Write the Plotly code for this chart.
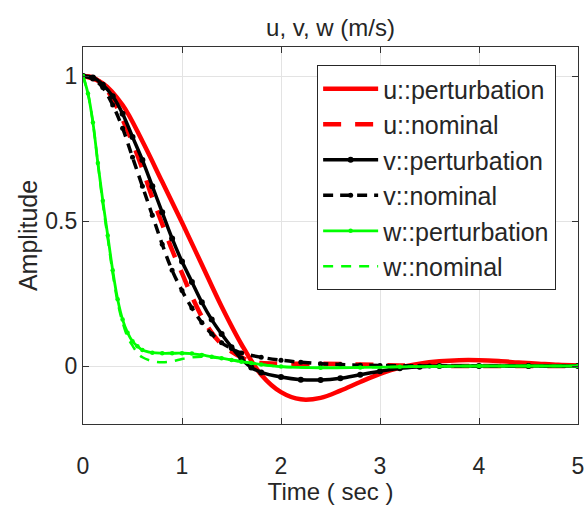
import plotly.graph_objects as go

# ---- data ----
t_u_pert = [0, 0.2, 0.4, 0.6, 0.8, 1.0, 1.2, 1.4, 1.6, 1.8, 2.0, 2.2, 2.4, 2.6, 2.8, 3.0,
            3.2, 3.4, 3.6, 3.8, 4.0, 4.2, 4.4, 4.6, 4.8, 5.0]
u_pert = [1.0, 0.975, 0.90, 0.775, 0.635, 0.495, 0.35, 0.205, 0.075, -0.03, -0.09, -0.115,
          -0.11, -0.085, -0.055, -0.027, -0.005, 0.008, 0.016, 0.02, 0.02, 0.017, 0.012,
          0.008, 0.004, 0.002]

t_u_nom = [0, 0.1, 0.2, 0.3, 0.4, 0.5, 0.6, 0.7, 0.8, 0.9, 1.0, 1.1, 1.2, 1.3, 1.4, 1.5,
           1.6, 1.7, 1.8, 2.0, 2.4, 2.8, 3.2, 4.0, 5.0]
u_nom = [1.0, 0.995, 0.97, 0.92, 0.85, 0.77, 0.68, 0.58, 0.49, 0.40, 0.32, 0.24, 0.17,
         0.115, 0.075, 0.05, 0.03, 0.015, 0.01, 0.008, 0.008, 0.005, 0.002, 0.0, 0.0]

t_v_pert = [0, 0.1, 0.2, 0.3, 0.4, 0.5, 0.6, 0.7, 0.8, 0.9, 1.0, 1.1, 1.2, 1.3, 1.4, 1.5,
            1.6, 1.7, 1.8, 2.0, 2.2, 2.4, 2.6, 2.8, 3.0, 3.2, 3.4, 3.6, 4.0, 4.5, 5.0]
v_pert = [1.0, 0.995, 0.97, 0.93, 0.87, 0.79, 0.71, 0.62, 0.53, 0.44, 0.36, 0.29, 0.22,
          0.16, 0.11, 0.065, 0.025, -0.005, -0.022, -0.038, -0.047, -0.048, -0.042,
          -0.03, -0.018, -0.008, -0.003, 0.0, 0.0, 0.0, 0.0]

t_v_nom = [0, 0.1, 0.2, 0.3, 0.4, 0.5, 0.6, 0.7, 0.8, 0.9, 1.0, 1.1, 1.2, 1.3, 1.4, 1.5,
           1.6, 1.8, 2.0, 2.2, 2.4, 2.6, 2.8, 3.0, 3.5, 4.0, 4.5, 5.0]
v_nom = [1.0, 0.99, 0.96, 0.90, 0.82, 0.72, 0.62, 0.52, 0.42, 0.33, 0.26, 0.20, 0.15,
         0.11, 0.08, 0.06, 0.045, 0.03, 0.02, 0.013, 0.008, 0.005, 0.003, 0.002, 0.0,
         0.0, 0.0, 0.0]

t_w_pert = [0, 0.05, 0.1, 0.15, 0.2, 0.25, 0.3, 0.35, 0.4, 0.45, 0.5, 0.55, 0.6, 0.7,
            0.8, 0.9, 1.0, 1.1, 1.2, 1.3, 1.4, 1.5, 1.6, 1.7, 1.8, 2.0, 2.4, 2.8, 3.2,
            3.6, 4.0, 4.5, 5.0]
w_pert = [1.0, 0.94, 0.84, 0.70, 0.57, 0.45, 0.33, 0.23, 0.16, 0.115, 0.085, 0.068,
          0.055, 0.046, 0.044, 0.044, 0.044, 0.043, 0.038, 0.032, 0.027, 0.021, 0.015,
          0.01, 0.005, -0.002, -0.006, -0.005, -0.003, -0.001, 0.0, 0.0, 0.0]

t_w_nom = [0, 0.05, 0.1, 0.15, 0.2, 0.25, 0.3, 0.35, 0.4, 0.45, 0.5, 0.55, 0.6, 0.7,
           0.8, 0.9, 1.0, 1.1, 1.2, 1.3, 1.4, 1.5, 1.6, 1.7, 1.8, 2.0, 2.4, 2.8, 3.2,
           3.6, 4.0, 4.5, 5.0]
w_nom = [1.0, 0.94, 0.84, 0.70, 0.56, 0.44, 0.32, 0.22, 0.15, 0.10, 0.07, 0.045, 0.03,
         0.017, 0.013, 0.016, 0.024, 0.03, 0.032, 0.03, 0.026, 0.021, 0.015, 0.01,
         0.005, -0.002, -0.006, -0.005, -0.003, -0.001, 0.0, 0.0, 0.0]

x_ticks = [0, 1, 2, 3, 4, 5]
y_ticks = [0, 0.5, 1]
y_tick_text = ["0", "0.5", "1"]

FONT = "Liberation Sans, Arial, sans-serif"
TXT = "#262626"

fig = go.Figure()
fig.add_trace(go.Scatter(x=t_u_pert, y=u_pert, name="u::perturbation", mode="lines",
                         line=dict(color="#ff0000", width=4.5, shape="spline")))
fig.add_trace(go.Scatter(x=t_u_nom, y=u_nom, name="u::nominal", mode="lines",
                         line=dict(color="#ff0000", width=4.5, dash="18px,14px", shape="spline")))
fig.add_trace(go.Scatter(x=t_v_pert, y=v_pert, name="v::perturbation", mode="lines+markers",
                         line=dict(color="#000000", width=3.5, shape="spline"),
                         marker=dict(color="#000000", size=6, symbol="circle")))
fig.add_trace(go.Scatter(x=t_v_nom, y=v_nom, name="v::nominal", mode="lines+markers",
                         line=dict(color="#000000", width=3.5, dash="10px,7px", shape="spline"),
                         marker=dict(color="#000000", size=5, symbol="circle")))
fig.add_trace(go.Scatter(x=t_w_pert, y=w_pert, name="w::perturbation", mode="lines+markers",
                         line=dict(color="#00ff00", width=2.8, shape="spline"),
                         marker=dict(color="#00ff00", size=4.5, symbol="circle")))
fig.add_trace(go.Scatter(x=t_w_nom, y=w_nom, name="w::nominal", mode="lines",
                         line=dict(color="#00ff00", width=2.5, dash="10px,8px", shape="spline")))

axis_common = dict(
    showline=True, linecolor="#333333", linewidth=1.3, mirror="ticks",
    ticks="inside", ticklen=6, tickcolor="#333333", tickwidth=1,
    showgrid=True, gridcolor="#e3e3e3", gridwidth=1, zeroline=False,
    tickfont=dict(family=FONT, size=23, color=TXT), automargin=False,
)

fig.update_layout(
    width=587, height=505,
    margin=dict(l=83, r=9, t=47, b=81, autoexpand=False),
    paper_bgcolor="white", plot_bgcolor="white",
    font=dict(family=FONT, color=TXT),
    title=dict(text="u, v, w (m/s)", xref="paper", x=0.5, xanchor="center",
               yref="container", y=1 - 28 / 505, yanchor="middle",
               font=dict(family=FONT, size=24, color=TXT)),
    xaxis=dict(range=[0, 5], tickvals=x_ticks, ticklabelstandoff=21,
               title=dict(text="Time ( sec )", font=dict(family=FONT, size=24, color=TXT), standoff=6),
               **axis_common),
    yaxis=dict(range=[-0.2, 1.1], tickvals=y_ticks, ticktext=y_tick_text,
               title=dict(text="Amplitude", font=dict(family=FONT, size=25, color=TXT), standoff=0),
               **axis_common),
    legend=dict(x=0.473, y=0.952, xanchor="left", yanchor="top",
                bgcolor="white", bordercolor="#262626", borderwidth=1,
                font=dict(family=FONT, size=25, color=TXT), itemwidth=55,
                tracegroupgap=0),
    showlegend=True,
)

fig.write_html("out.html",
               config={"displayModeBar": False},
               post_script="document.body.style.margin='0px';document.body.style.overflow='hidden';")
